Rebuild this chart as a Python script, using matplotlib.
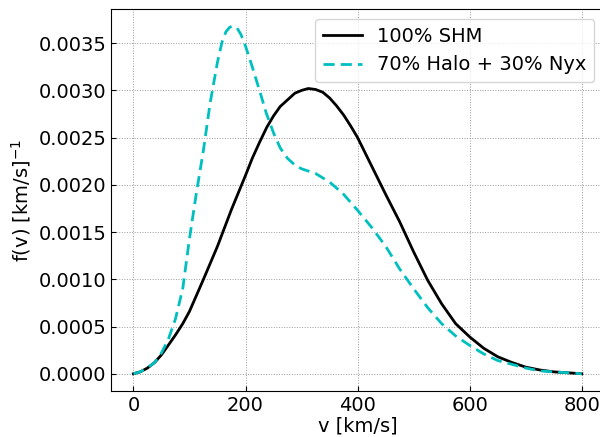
import matplotlib
matplotlib.use("Agg")
import matplotlib.pyplot as plt

# SHM curve
v_shm = [0, 12, 25, 38, 50, 62, 75, 88, 100, 125, 150, 175, 200, 212, 225,
         238, 250, 262, 275, 288, 300, 312, 325, 338, 350, 362, 375, 388,
         400, 425, 450, 475, 500, 525, 550, 575, 600, 625, 650, 675, 700,
         725, 750, 775, 800]
f_shm = [0, 0.00002, 0.00006, 0.00012, 0.0002, 0.0003, 0.00041, 0.00053,
         0.00066, 0.001, 0.00135, 0.00174, 0.0021, 0.00228, 0.00245,
         0.00261, 0.00273, 0.00283, 0.0029, 0.00297, 0.003, 0.00302,
         0.00301, 0.00298, 0.00292, 0.00284, 0.00274, 0.00262, 0.0025,
         0.0022, 0.0019, 0.00161, 0.00129, 0.00099, 0.00074, 0.00053,
         0.00039, 0.00027, 0.00018, 0.00012, 0.00007, 0.00004, 0.00002,
         0.00001, 0]

# 70% halo + 30% Nyx
v_nyx = [0, 12, 25, 38, 50, 62, 75, 88, 100, 112, 125, 137, 150, 158, 165,
         172, 178, 185, 192, 200, 212, 225, 237, 250, 262, 275, 288, 300,
         325, 350, 375, 400, 425, 450, 475, 500, 525, 550, 575, 600, 625,
         650, 675, 700, 725, 750, 775, 800]
f_nyx = [0, 0.00002, 0.00006, 0.00012, 0.00022, 0.00036, 0.00058, 0.0009,
         0.00143, 0.0019, 0.00237, 0.00287, 0.0033, 0.00351, 0.00362,
         0.00367, 0.00368, 0.00366, 0.00359, 0.00347, 0.00325, 0.003,
         0.00276, 0.00255, 0.00239, 0.00228, 0.00221, 0.00217, 0.00212,
         0.00203, 0.0019, 0.00173, 0.00155, 0.00135, 0.00111, 0.0009,
         0.0007, 0.00053, 0.0004, 0.0003, 0.00021, 0.00014, 0.0001,
         0.00006, 0.00003, 0.00002, 0.00001, 0]

fig = plt.figure(figsize=(6, 4.37), dpi=100)
ax = fig.add_axes([0.185, 0.105, 0.822, 0.874])

ax.plot(v_shm, f_shm, color="black", lw=2, label="100% SHM")
ax.plot(v_nyx, f_nyx, color="c", lw=2, ls=(0, (4, 2.2)), label="70% Halo + 30% Nyx")

ax.set_xlim(-40, 840)
ax.set_ylim(-0.000184, 0.00386)
ax.set_xticks([0, 200, 400, 600, 800])
ax.set_yticks([0, 0.0005, 0.001, 0.0015, 0.002, 0.0025, 0.003, 0.0035])
ax.yaxis.set_major_formatter(matplotlib.ticker.FormatStrFormatter("%.4f"))

ax.grid(True, ls=":", color="0.6", lw=0.7)
ax.tick_params(direction="in", labelsize=14)
ax.set_xlabel("v [km/s]", fontsize=14, labelpad=1)
ax.set_ylabel("f(v) [km/s]$^{-1}$", fontsize=14, labelpad=4)
ax.legend(loc="upper right", fontsize=14)

fig.savefig("out.png", dpi=100)
